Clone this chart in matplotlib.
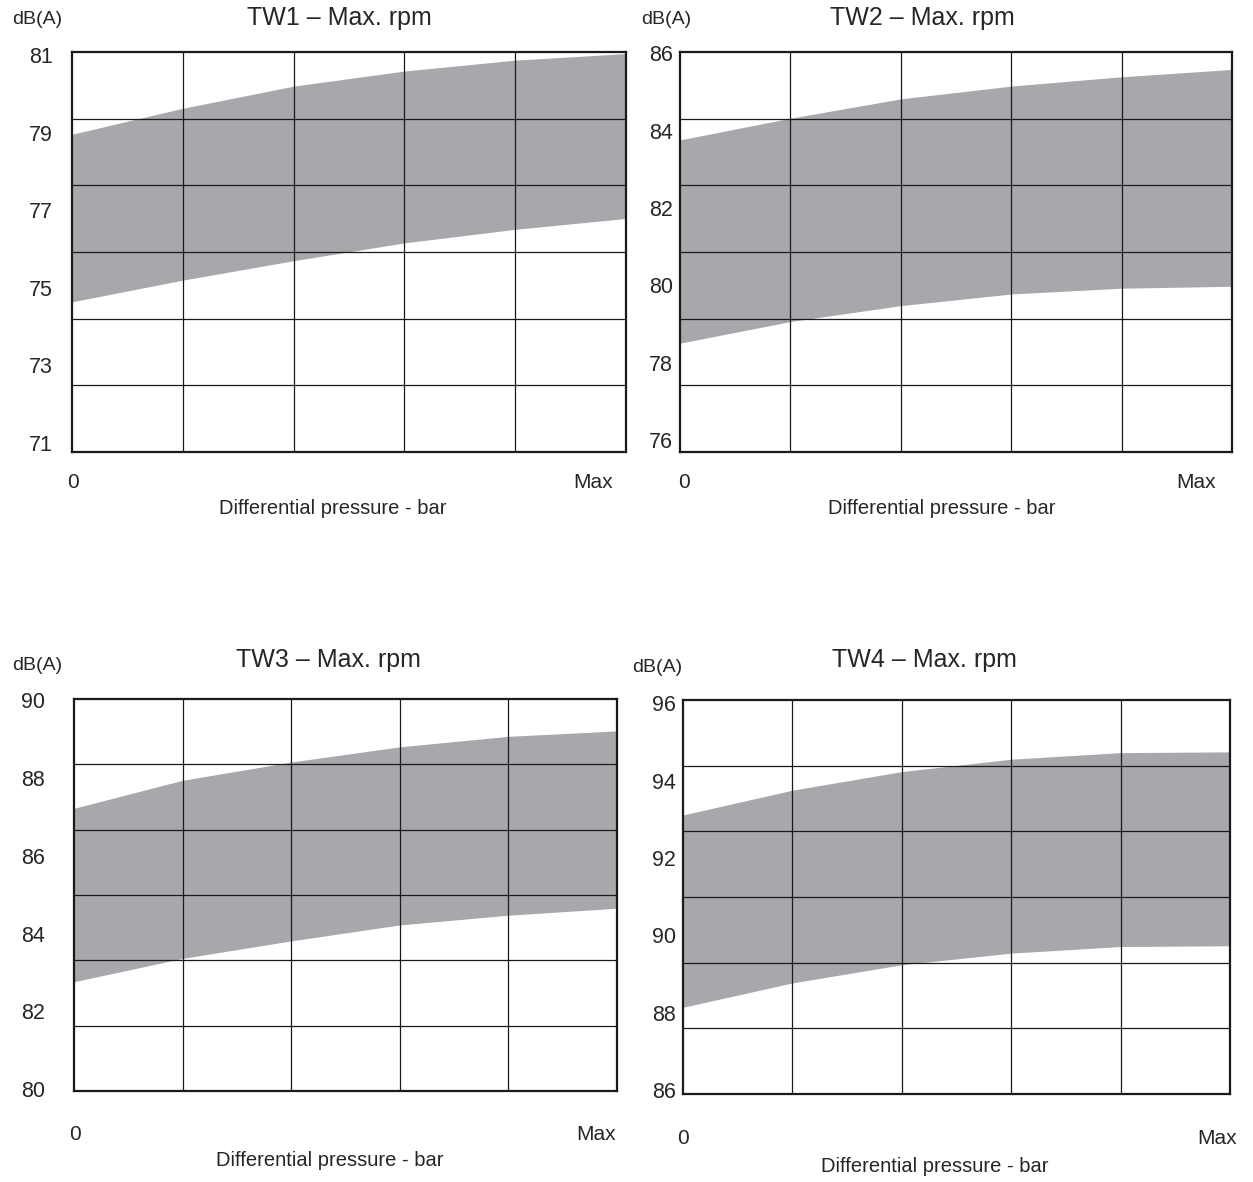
import numpy as np
import matplotlib.pyplot as plt

plt.rcParams['font.family'] = ['Liberation Sans', 'DejaVu Sans']

# dati: limiti inferiore/superiore della banda di rumore
x_pts = [0, 1, 2, 3, 4, 5]          # 0 ... Max, 5 colonne della griglia
titles = ['TW1 – Max. rpm', 'TW2 – Max. rpm', 'TW3 – Max. rpm', 'TW4 – Max. rpm']
y_ticks = [[71, 73, 75, 77, 79, 81],
           [76, 78, 80, 82, 84, 86],
           [80, 82, 84, 86, 88, 90],
           [86, 88, 90, 92, 94, 96]]
tw1_low = [74.64, 75.20, 75.70, 76.16, 76.51, 76.79]
tw1_high = [78.96, 79.63, 80.20, 80.59, 80.87, 81.04]
tw2_low = [78.51, 79.07, 79.48, 79.78, 79.93, 79.98]
tw2_high = [83.76, 84.32, 84.82, 85.15, 85.39, 85.58]
tw3_low = [82.76, 83.36, 83.81, 84.22, 84.47, 84.65]
tw3_high = [87.22, 87.94, 88.41, 88.80, 89.07, 89.21]
tw4_low = [88.14, 88.77, 89.24, 89.54, 89.71, 89.73]
tw4_high = [93.11, 93.75, 94.23, 94.55, 94.72, 94.74]

lows = [tw1_low, tw2_low, tw3_low, tw4_low]
highs = [tw1_high, tw2_high, tw3_high, tw4_high]

W, H = 1253, 1182
fig = plt.figure(figsize=(W / 100, H / 100), dpi=100)


def px(x, y):
    # pixel -> coordinate figura
    return x / W, 1 - y / H


# box in pixel (sx, alto, dx, basso), ylim, pad etichette, posizioni testi
layout = [
    dict(box=(72, 52, 626, 452), ylim=(70.77, 81.08), pad=13.5,
         dba=(37, 19), tit=(339, 18), zero=(73, 482), mx=(593, 482), xl=(333, 509)),
    dict(box=(680, 52, 1232, 452), ylim=(75.70, 86.03), pad=5,
         dba=(666, 19), tit=(922, 18), zero=(684, 482), mx=(1196, 482), xl=(942, 509)),
    dict(box=(74, 699, 617, 1091), ylim=(79.95, 90.03), pad=21,
         dba=(37, 666), tit=(328, 660), zero=(75, 1135), mx=(596, 1135), xl=(330, 1161)),
    dict(box=(683, 700, 1230, 1094), ylim=(85.90, 96.08), pad=5,
         dba=(657, 667), tit=(924, 660), zero=(683, 1138), mx=(1217, 1138), xl=(935, 1167)),
]

txt_col = '#262626'

for i, lay in enumerate(layout):
    l, t, r, b = lay['box']
    ax = fig.add_axes([l / W, 1 - b / H, (r - l) / W, (b - t) / H])
    ax.fill_between(x_pts, lows[i], highs[i], color='#a7a8ac', lw=0, zorder=1)

    lo, hi = lay['ylim']
    ax.set_xlim(0, 5)
    ax.set_ylim(lo, hi)
    # griglia 5 x 6 indipendente dalle etichette
    for k in range(1, 5):
        ax.axvline(k, color='#1a1a1a', lw=0.9, zorder=2)
    for k in range(1, 6):
        ax.axhline(lo + (hi - lo) * k / 6, color='#1a1a1a', lw=0.9, zorder=2)

    ax.set_xticks([])
    ax.set_yticks(y_ticks[i])
    ax.tick_params(axis='y', length=0, pad=lay['pad'], labelsize=15.5, labelcolor=txt_col)
    for s in ax.spines.values():
        s.set_linewidth(1.6)
        s.set_color('#1a1a1a')
        s.set_zorder(3)

    fig.text(*px(*lay['dba']), 'dB(A)', ha='center', va='center', fontsize=14, color=txt_col)
    fig.text(*px(*lay['tit']), titles[i], ha='center', va='center', fontsize=18, color=txt_col)
    fig.text(*px(*lay['zero']), '0', ha='center', va='center', fontsize=15, color=txt_col)
    fig.text(*px(*lay['mx']), 'Max', ha='center', va='center', fontsize=15, color=txt_col)
    fig.text(*px(*lay['xl']), 'Differential pressure - bar', ha='center', va='center',
             fontsize=14.5, color=txt_col)

fig.savefig('out.png', dpi=100)
